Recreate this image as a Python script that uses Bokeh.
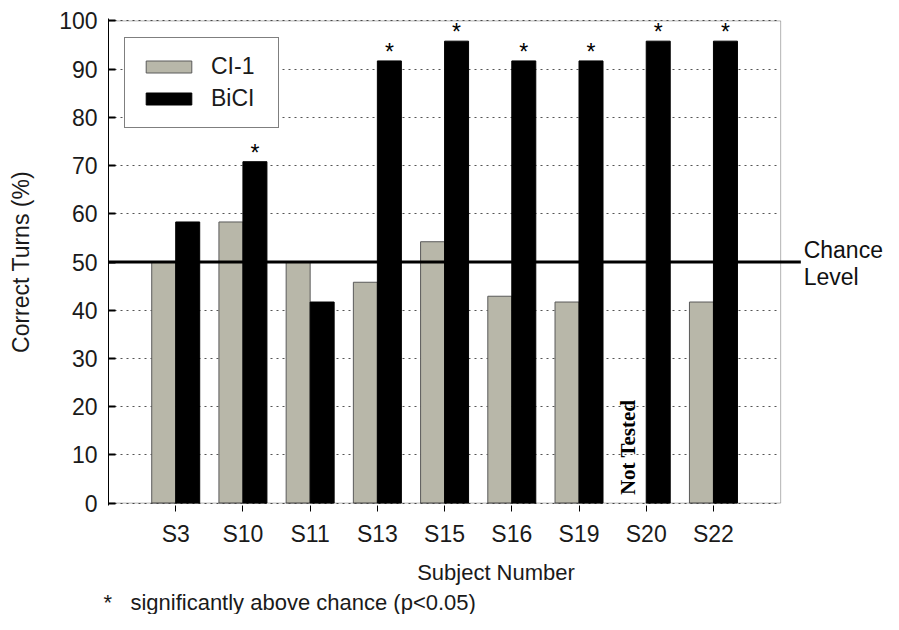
import numpy as np
from bokeh.plotting import figure
from bokeh.models import (Range1d, FixedTicker, BoxAnnotation, Label, Title,
                          ColumnDataSource, Grid)
from bokeh.core.properties import value
from bokeh.embed import file_html
from bokeh.resources import INLINE

# ---------------- data ----------------
subjects = ["S3", "S10", "S11", "S13", "S15", "S16", "S19", "S20", "S22"]
ci1 = [50.0, 58.3, 50.0, 45.8, 54.2, 42.9, 41.7, np.nan, 41.7]   # S20 not tested
bici = [58.3, 70.8, 41.7, 91.7, 95.8, 91.7, 91.7, 95.8, 95.8]
significant = [False, True, False, True, True, True, True, True, True]
series_names = ["CI-1", "BiCI"]
y_ticks = [0, 10, 20, 30, 40, 50, 60, 70, 80, 90, 100]
chance = 50
y_max = 100
not_tested_text = "Not Tested"
x_title = "Subject Number"
y_title = "Correct Turns (%)"
footnote = "*\u00a0\u00a0\u00a0significantly above chance (p<0.05)"
chance_lines = ["Chance", "Level"]

# ---------------- styling ----------------
FONT = "Liberation Sans"
GRAY = "#b8b7a9"
W = 0.357
n = len(subjects)
pos = np.arange(1, n + 1)
X_END = n + 2.53          # frame extends right to leave room for the chance label
CHANCE_END = n + 1.3      # chance line sticks out past the box

p = figure(width=883, height=614, output_backend="svg", toolbar_location=None,
           x_range=Range1d(0, X_END), y_range=Range1d(-0.5, y_max + 0.5),
           min_border_left=108, min_border_right=0, min_border_top=18,
           min_border_bottom=108)
p.outline_line_color = None
p.background_fill_color = "white"
p.border_fill_color = "white"

# grid
p.xgrid.visible = False
p.ygrid.ticker = FixedTicker(ticks=y_ticks)
p.ygrid.grid_line_color = "#555555"
p.ygrid.grid_line_dash = "2 4"
p.ygrid.grid_line_width = 1
if "cross_bounds" in Grid.properties():
    p.ygrid.cross_bounds = (0, n + 1)

# bars
src_ci = ColumnDataSource(dict(x=pos - W / 2, top=ci1))
src_bi = ColumnDataSource(dict(x=pos + W / 2, top=bici))
p.vbar(x="x", top="top", bottom=0, width=W, source=src_ci, fill_color=GRAY,
       line_color="#5a5a5a", line_width=1, legend_label=series_names[0])
p.vbar(x="x", top="top", bottom=0, width=W, source=src_bi, fill_color="black",
       line_color="black", line_width=1, legend_label=series_names[1])

# significance stars
sx = [pos[i] + W / 2 for i in range(n) if significant[i]]
sy = [bici[i] for i in range(n) if significant[i]]
p.text(x=sx, y=sy, text=["*"] * len(sx), text_align="center",
       text_baseline="alphabetic", text_font=value(FONT), text_font_size="23px",
       y_offset=-9, text_color="black")

# not tested
nx = [pos[i] - W / 2 for i in range(n) if np.isnan(ci1[i])]
p.text(x=nx, y=[0] * len(nx), text=[not_tested_text] * len(nx), angle=np.pi / 2,
       text_align="left", text_baseline="alphabetic",
       text_font=value("Liberation Serif"), text_font_style="bold",
       text_font_size="21px", x_offset=-6, y_offset=-8, text_color="black")

# frame box
p.add_layout(BoxAnnotation(left=0, right=n + 1, bottom=0, top=y_max,
                           fill_alpha=0, line_color="black", line_width=1))

# chance line + label
p.segment(x0=[0], y0=[chance], x1=[CHANCE_END], y1=[chance],
          line_color="black", line_width=3)
p.add_layout(Label(x=n + 1, y=chance, x_offset=23, y_offset=12, text=chance_lines[0],
                   text_font=FONT, text_font_size="23px", text_baseline="alphabetic",
                   text_color="#111111"))
p.add_layout(Label(x=n + 1, y=chance, x_offset=23, y_offset=-15, text=chance_lines[1],
                   text_font=FONT, text_font_size="23px", text_baseline="alphabetic",
                   text_color="#111111"))

# axes
ya = p.yaxis[0]
ya.ticker = FixedTicker(ticks=y_ticks)
ya.major_tick_in = 7
ya.major_tick_out = 0
ya.minor_tick_line_color = None
ya.major_tick_line_color = "black"
ya.major_tick_line_width = 2
ya.axis_line_color = "black"
ya.major_label_standoff = 11
ya.major_label_text_font = FONT
ya.major_label_text_font_size = "23px"
ya.major_label_text_color = "#1a1a1a"
ya.axis_label = y_title
ya.axis_label_text_font = FONT
ya.axis_label_text_font_size = "23px"
ya.axis_label_text_font_style = "normal"
ya.axis_label_text_color = "#1a1a1a"
ya.axis_label_standoff = 22

xa = p.xaxis[0]
xa.ticker = FixedTicker(ticks=list(pos))
xa.major_label_overrides = {int(pos[i]): subjects[i] for i in range(n)}
xa.major_tick_in = 0
xa.major_tick_out = 6
xa.minor_tick_line_color = None
xa.major_tick_line_color = "black"
xa.axis_line_color = None
xa.major_label_standoff = 9
xa.major_label_text_font = FONT
xa.major_label_text_font_size = "23px"
xa.major_label_text_color = "#1a1a1a"
xa.axis_label = x_title
xa.axis_label_text_font = FONT
xa.axis_label_text_font_size = "22px"
xa.axis_label_text_font_style = "normal"
xa.axis_label_text_color = "#1a1a1a"
xa.axis_label_standoff = 10

# legend
lg = p.legend[0]
lg.location = (16, 377)
lg.label_text_font = FONT
lg.label_text_font_size = "23px"
lg.label_text_color = "#1a1a1a"
lg.glyph_width = 57
lg.glyph_height = 15
lg.label_standoff = 14
lg.label_width = 52
lg.padding = 15
lg.spacing = 5
lg.border_line_color = "black"
lg.border_line_width = 1
lg.background_fill_alpha = 1
lg.margin = 0

# footnote
p.add_layout(Title(text=footnote, align="left", text_font=FONT, text_font_size="22px",
                   text_font_style="normal", text_color="#1a1a1a", offset=-5,
                   standoff=0), "below")

open("out.html", "w").write(file_html(p, INLINE))
